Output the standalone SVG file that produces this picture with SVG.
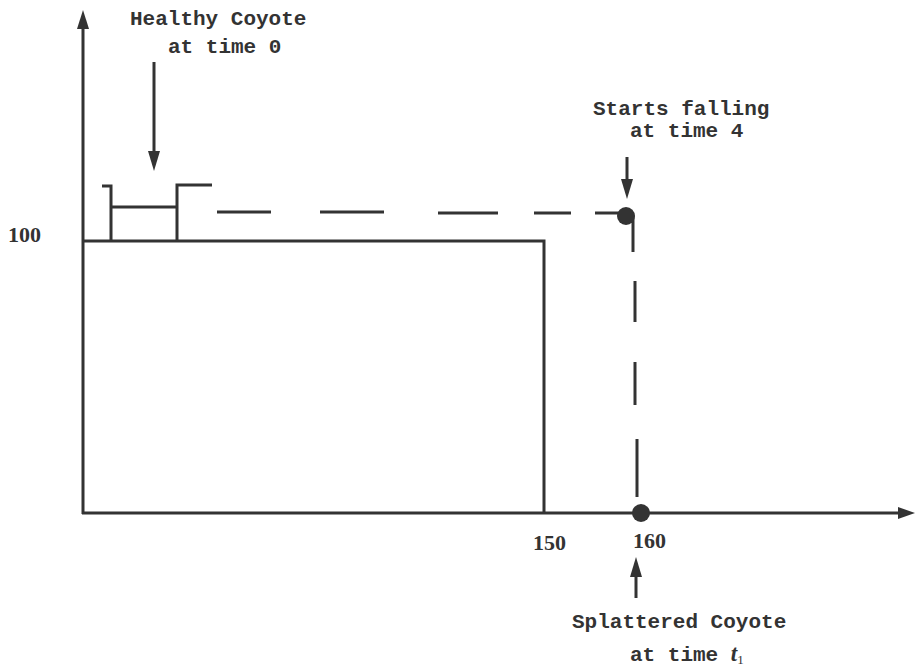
<svg xmlns="http://www.w3.org/2000/svg" width="915" height="670" viewBox="0 0 915 670">
<style>
.ln{stroke:#333;stroke-width:3;fill:none}
.ds{stroke:#333;stroke-width:3;fill:none}
.tt{font-family:"Liberation Mono",monospace;font-weight:bold;font-size:21px;fill:#333}
.num{font-family:"Liberation Serif",serif;font-weight:bold;font-size:22px;fill:#333}
.dot{fill:#333}
.ah{fill:#333}
</style>
<rect width="915" height="670" fill="#fff"/>
<g id="axes">
<line class="ln" x1="83" y1="26" x2="83" y2="514"/>
<polygon class="ah" points="83,10 77,29 89,29"/>
<line class="ln" x1="82" y1="513" x2="900" y2="513"/>
<polygon class="ah" points="915,513 898,507 898,519"/>
</g>
<g id="cliff">
<polyline class="ln" points="83,241 544,241 544,513"/>
</g>
<g id="coyote">
<polyline class="ln" points="102,186 111,186 111,241"/>
<line class="ln" x1="111" y1="207" x2="177" y2="207"/>
<polyline class="ln" points="177,241 177,185 212,185"/>
</g>
<g id="connectors">
<line class="ds" x1="217" y1="212" x2="271" y2="212"/>
<line class="ds" x1="320" y1="212" x2="384" y2="212"/>
<line class="ds" x1="438" y1="213" x2="498" y2="213"/>
<line class="ds" x1="534" y1="213" x2="571" y2="213"/>
<line class="ds" x1="595" y1="213" x2="622" y2="213"/>
<line class="ds" x1="633" y1="216" x2="633" y2="252"/>
<line class="ds" x1="635" y1="281" x2="635" y2="322"/>
<line class="ds" x1="635" y1="362" x2="635" y2="405"/>
<line class="ds" x1="637" y1="439" x2="637" y2="497"/>
<line class="ln" x1="154" y1="62" x2="154" y2="154"/>
<polygon class="ah" points="154,171 148,151 160,151"/>
<line class="ln" x1="627" y1="157" x2="627" y2="182"/>
<polygon class="ah" points="627,199 621,179 633,179"/>
<line class="ln" x1="636" y1="598" x2="636" y2="574"/>
<polygon class="ah" points="636,557 630,577 642,577"/>
</g>
<g id="point-start">
<circle class="dot" cx="626" cy="216" r="9"/>
</g>
<g id="point-end">
<circle class="dot" cx="641" cy="513" r="9"/>
</g>
<g id="labels">
<text class="tt" x="130" y="25">Healthy Coyote</text>
<text class="tt" x="168" y="53">at time 0</text>
<text class="tt" x="593" y="115">Starts falling</text>
<text class="tt" x="630" y="137">at time 4</text>
<text class="tt" x="572" y="628">Splattered Coyote</text>
<text class="tt" x="630" y="661">at time <tspan font-family="Liberation Serif,serif" font-style="italic" font-size="23">t</tspan><tspan font-family="Liberation Serif,serif" font-weight="normal" font-size="13" dy="3">1</tspan></text>
<text class="num" x="8" y="242">100</text>
<text class="num" x="533" y="550">150</text>
<text class="num" x="633" y="548">160</text>
</g>
</svg>
